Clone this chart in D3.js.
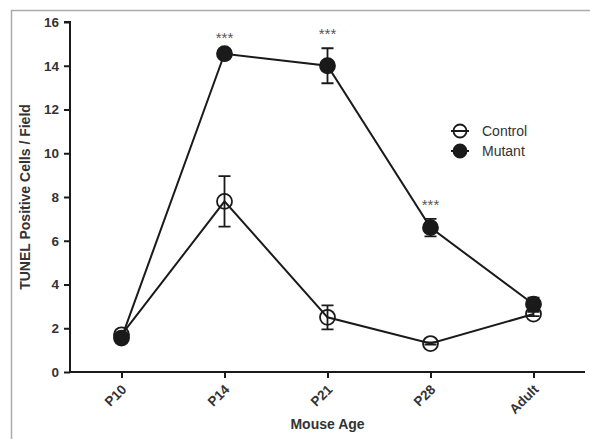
<!DOCTYPE html>
<html>
<head>
<meta charset="utf-8">
<script src="https://cdn.jsdelivr.net/npm/d3@7"></script>
<style>
	body { margin: 0; background: #fff; }
	svg { display: block; font-family: 'Liberation Sans', Arial, sans-serif; }
</style>
</head>
<body>
<div class="vis"></div>
<script>
const ages = ['P10', 'P14', 'P21', 'P28', 'Adult']

const controlMean = [1.7, 7.8, 2.5, 1.3, 2.65]
const controlErr = [0.1, 1.15, 0.55, 0.05, 0.1]

const mutantMean = [1.55, 14.55, 14.0, 6.6, 3.1]
const mutantErr = [0.1, 0.1, 0.8, 0.4, 0.3]

// significance marks, by age
const stars = ['', '***', '***', '***', '']

const yTicks = [0, 2, 4, 6, 8, 10, 12, 14, 16]

const W = 590
const H = 439
const MARGIN = { top: 22, bottom: 67, left: 70, right: 5 }

const ink = '#1a1a1a'
const textCol = '#333'

const svg = d3.select('.vis').append('svg')
	.attr('width', W)
	.attr('height', H)

// grey frame from the scan
svg.append('path')
	.attr('d', `M11.5,${H} V10.5 H${W}`)
	.attr('fill', 'none')
	.attr('stroke', '#aaa')
	.attr('stroke-width', 1.5)

const scale = {}
scale.x = d3.scalePoint().domain(ages).range([MARGIN.left, W - MARGIN.right]).padding(0.5)
scale.y = d3.scaleLinear().domain([0, 16]).range([H - MARGIN.bottom, MARGIN.top])

const x0 = MARGIN.left
const y0 = H - MARGIN.bottom

// axes
const yAxis = svg.append('g')
	.attr('transform', `translate(${x0},0)`)
	.call(d3.axisLeft(scale.y).tickValues(yTicks).tickSize(6).tickPadding(5))
yAxis.select('.domain').attr('d', `M-6,${scale.y(16)}H0V${y0}`)

const xAxis = svg.append('g')
	.attr('transform', `translate(0,${y0})`)
	.call(d3.axisBottom(scale.x).tickSize(6).tickPadding(4))
xAxis.select('.domain').attr('d', `M${x0},0H${W - MARGIN.right}`)

svg.selectAll('.domain, .tick line')
	.attr('stroke', ink)
	.attr('stroke-width', 2)

svg.selectAll('.tick text')
	.style('font-size', '13.5px')
	.style('font-weight', 'bold')
	.style('font-family', 'Liberation Sans, Arial, sans-serif')
	.attr('fill', textCol)

xAxis.selectAll('.tick text')
	.attr('text-anchor', 'end')
	.attr('x', 0)
	.attr('y', 0)
	.attr('dy', '0.35em')
	.attr('transform', 'translate(2,15) rotate(-45)')

// axis titles
svg.append('text')
	.attr('transform', `translate(30,${(scale.y(16) + y0) / 2}) rotate(-90)`)
	.attr('text-anchor', 'middle')
	.attr('font-size', 14)
	.attr('font-weight', 'bold')
	.attr('fill', textCol)
	.text('TUNEL Positive Cells / Field')

svg.append('text')
	.attr('x', scale.x('P21'))
	.attr('y', 429)
	.attr('text-anchor', 'middle')
	.attr('font-size', 14)
	.attr('font-weight', 'bold')
	.attr('fill', textCol)
	.text('Mouse Age')

const series = [
	{ name: 'Control', mean: controlMean, err: controlErr, fill: '#fff' },
	{ name: 'Mutant', mean: mutantMean, err: mutantErr, fill: ink },
]

const line = d3.line()
	.x((d, i) => scale.x(ages[i]))
	.y(d => scale.y(d))

series.forEach(s => {
	const g = svg.append('g').attr('class', 'series')

	g.append('path')
		.attr('d', line(s.mean))
		.attr('fill', 'none')
		.attr('stroke', ink)
		.attr('stroke-width', 2)

	const pt = g.selectAll('.pt').data(s.mean).enter()
		.append('g')
		.attr('transform', (d, i) => `translate(${scale.x(ages[i])},0)`)

	// error bars
	pt.append('path')
		.attr('d', (d, i) => {
			const hi = scale.y(d + s.err[i])
			const lo = scale.y(d - s.err[i])
			return `M-6,${hi}H6M0,${hi}V${lo}M-6,${lo}H6`
		})
		.attr('fill', 'none')
		.attr('stroke', ink)
		.attr('stroke-width', 1.8)

	pt.append('circle')
		.attr('cy', d => scale.y(d))
		.attr('r', 7.5)
		.attr('fill', s.fill)
		.attr('fill-opacity', s.name === 'Control' ? 0 : 1)
		.attr('stroke', ink)
		.attr('stroke-width', 1.8)
})

// significance stars
svg.selectAll('.star').data(ages).enter()
	.append('text')
	.attr('x', d => scale.x(d))
	.attr('y', (d, i) => scale.y(mutantMean[i] + mutantErr[i]) - 9)
	.attr('text-anchor', 'middle')
	.attr('font-size', 15)
	.attr('fill', '#555')
	.text((d, i) => stars[i])

// legend
const legend = svg.append('g').attr('transform', 'translate(460,131)')
const legItem = legend.selectAll('g').data(series).enter()
	.append('g')
	.attr('transform', (d, i) => `translate(0,${i * 20})`)

legItem.append('line')
	.attr('x1', -9).attr('x2', 9)
	.attr('stroke', ink).attr('stroke-width', 2)

legItem.append('circle')
	.attr('r', 6.5)
	.attr('fill', d => d.fill)
	.attr('fill-opacity', d => d.name === 'Control' ? 0 : 1)
	.attr('stroke', ink)
	.attr('stroke-width', 1.8)

legItem.append('text')
	.attr('x', 22)
	.attr('dy', '0.35em')
	.attr('font-size', 14)
	.attr('fill', textCol)
	.text(d => d.name)
</script>
</body>
</html>
